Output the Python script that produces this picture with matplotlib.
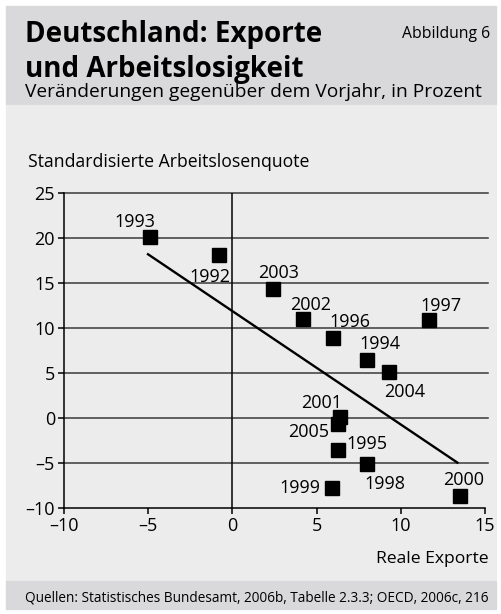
import matplotlib
matplotlib.use("Agg")
import matplotlib.pyplot as plt
from matplotlib.patches import Rectangle

# ---------------- data ----------------
years = ["1993", "1992", "2003", "2002", "1996", "1997", "1994", "2004",
         "2001", "2005", "1995", "1998", "1999", "2000"]
exports = [-4.9, -0.8, 2.4, 4.2, 6.0, 11.7, 8.0, 9.3, 6.4, 6.3, 6.3, 8.0, 5.9, 13.5]
unemployment = [20.1, 18.2, 14.4, 11.0, 8.9, 10.9, 6.5, 5.1, 0.2, -0.6, -3.5, -5.1, -7.7, -8.6]
trend_x = [-5.07, 13.42]
trend_y = [18.3, -5.0]
x_ticks = [-10, -5, 0, 5, 10, 15]
y_ticks = [-10, -5, 0, 5, 10, 15, 20, 25]

# label offsets in pixels (dx right, dy down) -- layout only
label_offsets = {
    "1993": (-15, -16), "1992": (-9, 21), "2003": (6, -17), "2002": (7, -15),
    "1996": (16, -17), "1997": (12, -15), "1994": (13, -17), "2004": (16, 19),
    "2001": (-19, -15), "2005": (-30, 7), "1995": (28, -7), "1998": (18, 19),
    "1999": (-32, -1), "2000": (4, -17),
}

W, H = 501, 614
plt.rcParams['font.family'] = ['Open Sans', 'DejaVu Sans']
fig = plt.figure(figsize=(W / 100, H / 100), dpi=100)
fig.patch.set_facecolor("white")


def fx(x):
    return x / W


def fy(y):
    return 1 - y / H


def band(y0, y1, color):
    fig.patches.append(Rectangle((fx(6), fy(y1)), fx(496) - fx(6), fy(y0) - fy(y1),
                                 transform=fig.transFigure, color=color, zorder=-5))


HEAD = "#d9d9db"
PLOT = "#ececec"
band(6, 105, HEAD)
band(105, 581, PLOT)
band(581, 609, HEAD)

# header texts
fig.text(fx(25), fy(42), "Deutschland: Exporte", fontsize=20, fontweight="bold", va="baseline", ha="left")
fig.text(fx(25), fy(77), "und Arbeitslosigkeit", fontsize=20, fontweight="bold", va="baseline", ha="left")
fig.text(fx(490), fy(38), "Abbildung 6", fontsize=11.3, va="baseline", ha="right")
fig.text(fx(25), fy(97), "Veränderungen gegenüber dem Vorjahr, in Prozent", fontsize=13.8, va="baseline", ha="left")

# axis labels
fig.text(fx(28), fy(167), "Standardisierte Arbeitslosenquote", fontsize=12.7, va="baseline", ha="left")
fig.text(fx(489), fy(563), "Reale Exporte", fontsize=12.6, va="baseline", ha="right")

# footer
fig.text(fx(25), fy(601), "Quellen: Statistisches Bundesamt, 2006b, Tabelle 2.3.3; OECD, 2006c, 216",
         fontsize=9.8, va="baseline", ha="left")

# axes
left, right, top, bottom = 64, 485, 193.3, 508.3
ax = fig.add_axes([fx(left), fy(bottom), (right - left) / W, (bottom - top) / H])
ax.set_zorder(2)
ax.set_facecolor("none")
ax.set_xlim(-10, 15)
ax.set_ylim(-10, 25)

for s in ["top", "right"]:
    ax.spines[s].set_visible(False)
for s in ["left", "bottom"]:
    ax.spines[s].set_color("black")
    ax.spines[s].set_linewidth(1.1)

for yv in y_ticks:
    if yv == -10:
        continue
    ax.axhline(yv, xmin=0, xmax=1.008, color="#3a3a3a", lw=1.1, clip_on=False, zorder=1)
ax.axvline(0, color="black", lw=1.1, zorder=1)

ax.set_xticks(x_ticks)
ax.set_yticks(y_ticks)
fmt = lambda v: ("\u2013" + str(abs(v))) if v < 0 else str(v)
ax.set_xticklabels([fmt(v) for v in x_ticks])
ax.set_yticklabels([fmt(v) for v in y_ticks])
ax.tick_params(axis="both", direction="out", length=4.5, width=1.1, color="black",
               labelsize=13, pad=2)

# trend line
ax.plot(trend_x, trend_y, color="black", lw=1.7, zorder=2, solid_capstyle="butt")

# points
ax.plot(exports, unemployment, linestyle="none", marker="s", markersize=10.3,
        color="black", zorder=3)

for yr, xv, yv in zip(years, exports, unemployment):
    dx, dy = label_offsets[yr]
    ax.annotate(yr, (xv, yv), xytext=(dx * 0.72, -(dy + 6) * 0.72),
                textcoords="offset points", ha="center", va="baseline", fontsize=13, zorder=4)

fig.savefig("out.png", dpi=100, facecolor="white")
